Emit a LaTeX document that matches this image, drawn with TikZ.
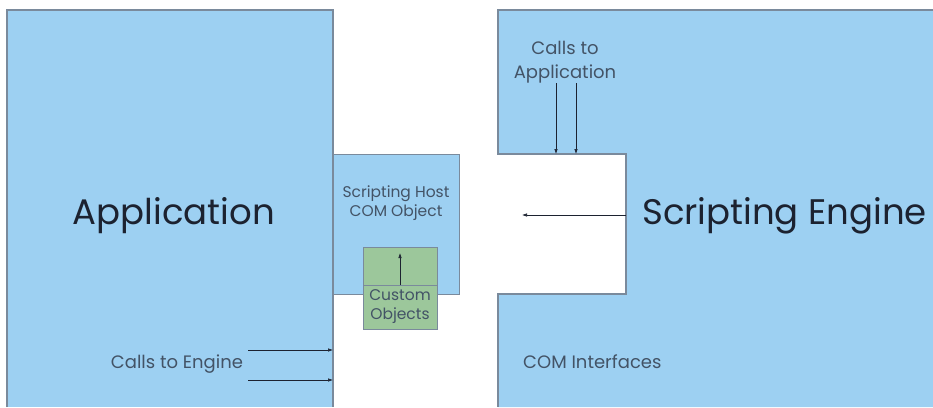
\documentclass[tikz,border=0pt]{standalone}
\usepackage{fontspec}
\setmainfont{Poppins}
\usetikzlibrary{arrows.meta}
\definecolor{boxblue}{HTML}{9DD0F2}
\definecolor{boxgreen}{HTML}{9CC79B}
\definecolor{edge}{HTML}{7A8A9C}
\definecolor{txt}{HTML}{435366}
\definecolor{bigtxt}{HTML}{1C2230}
\tikzset{
  border/.style={draw=edge, line width=1.4pt},
  call/.style={draw=bigtxt, line width=0.6pt, -{Latex[length=5pt,width=3.5pt]}},
  small/.style={text=txt, font=\fontsize{18}{24}\selectfont, inner sep=0pt, align=center},
  inner/.style={text=txt, font=\fontsize{15.5}{19}\selectfont, inner sep=0pt, align=center},
  big/.style={text=bigtxt, font=\fontsize{35.5}{40}\selectfont, inner sep=0pt},
}
\begin{document}
\begin{tikzpicture}[x=1pt,y=-1pt]
\useasboundingbox (0,0) rectangle (933,407);
% Application block
\fill[boxblue] (7,10) rectangle (333,407);
\draw[border] (7,407) -- (7,10) -- (333,10) -- (333,407);
% Scripting engine block
\fill[boxblue] (498,407) -- (498,294) -- (626,294) -- (626,154) -- (498,154) -- (498,10) -- (933,10) -- (933,407) -- cycle;
\draw[border] (498,407) -- (498,294) -- (626,294) -- (626,154) -- (498,154) -- (498,10) -- (933,10);
% Scripting host
\node[border, fill=boxblue, minimum width=126pt, minimum height=140pt, inner sep=0pt, anchor=north west] (host) at (333,154) {};
% Custom objects
\node[draw=edge, line width=1pt, fill=boxgreen, minimum width=74pt, minimum height=82pt, inner sep=0pt, anchor=north west] (custom) at (363,247) {};
\coordinate (div) at (400,285);
\draw[draw=edge, line width=1pt] (custom.west |- div) -- (custom.east |- div);
\coordinate (cotop) at (400,253);
\draw[call] (div) -- (cotop);
% texts
\node[big] (applbl) at (174,216) {Application};
\node[big, anchor=west] (englbl) at (642,216) {Scripting Engine};
\node[inner] (hostlbl) at (396,203) {Scripting Host\\COM Object};
\node[inner] (customlbl) at (400,307) {Custom\\Objects};
\node[small] (calllbl) at (565,62) {Calls to\\Application};
\node[small] (enginecalls) at (177,364) {Calls to Engine};
\node[small, anchor=west] (comlbl) at (523,362) {COM Interfaces};
% arrows
\coordinate (a1s) at (556,83); \coordinate (a1e) at (556,154);
\coordinate (a2s) at (576,83); \coordinate (a2e) at (576,154);
\draw[call] (a1s) -- (a1e);
\draw[call] (a2s) -- (a2e);
\coordinate (e1s) at (248,350); \coordinate (e1e) at (333,350);
\coordinate (e2s) at (248,380); \coordinate (e2e) at (333,380);
\draw[call] (e1s) -- (e1e);
\draw[call] (e2s) -- (e2e);
\coordinate (n1) at (626,215); \coordinate (n2) at (522,215);
\draw[call] (n1) -- (n2);
\end{tikzpicture}
\end{document}
